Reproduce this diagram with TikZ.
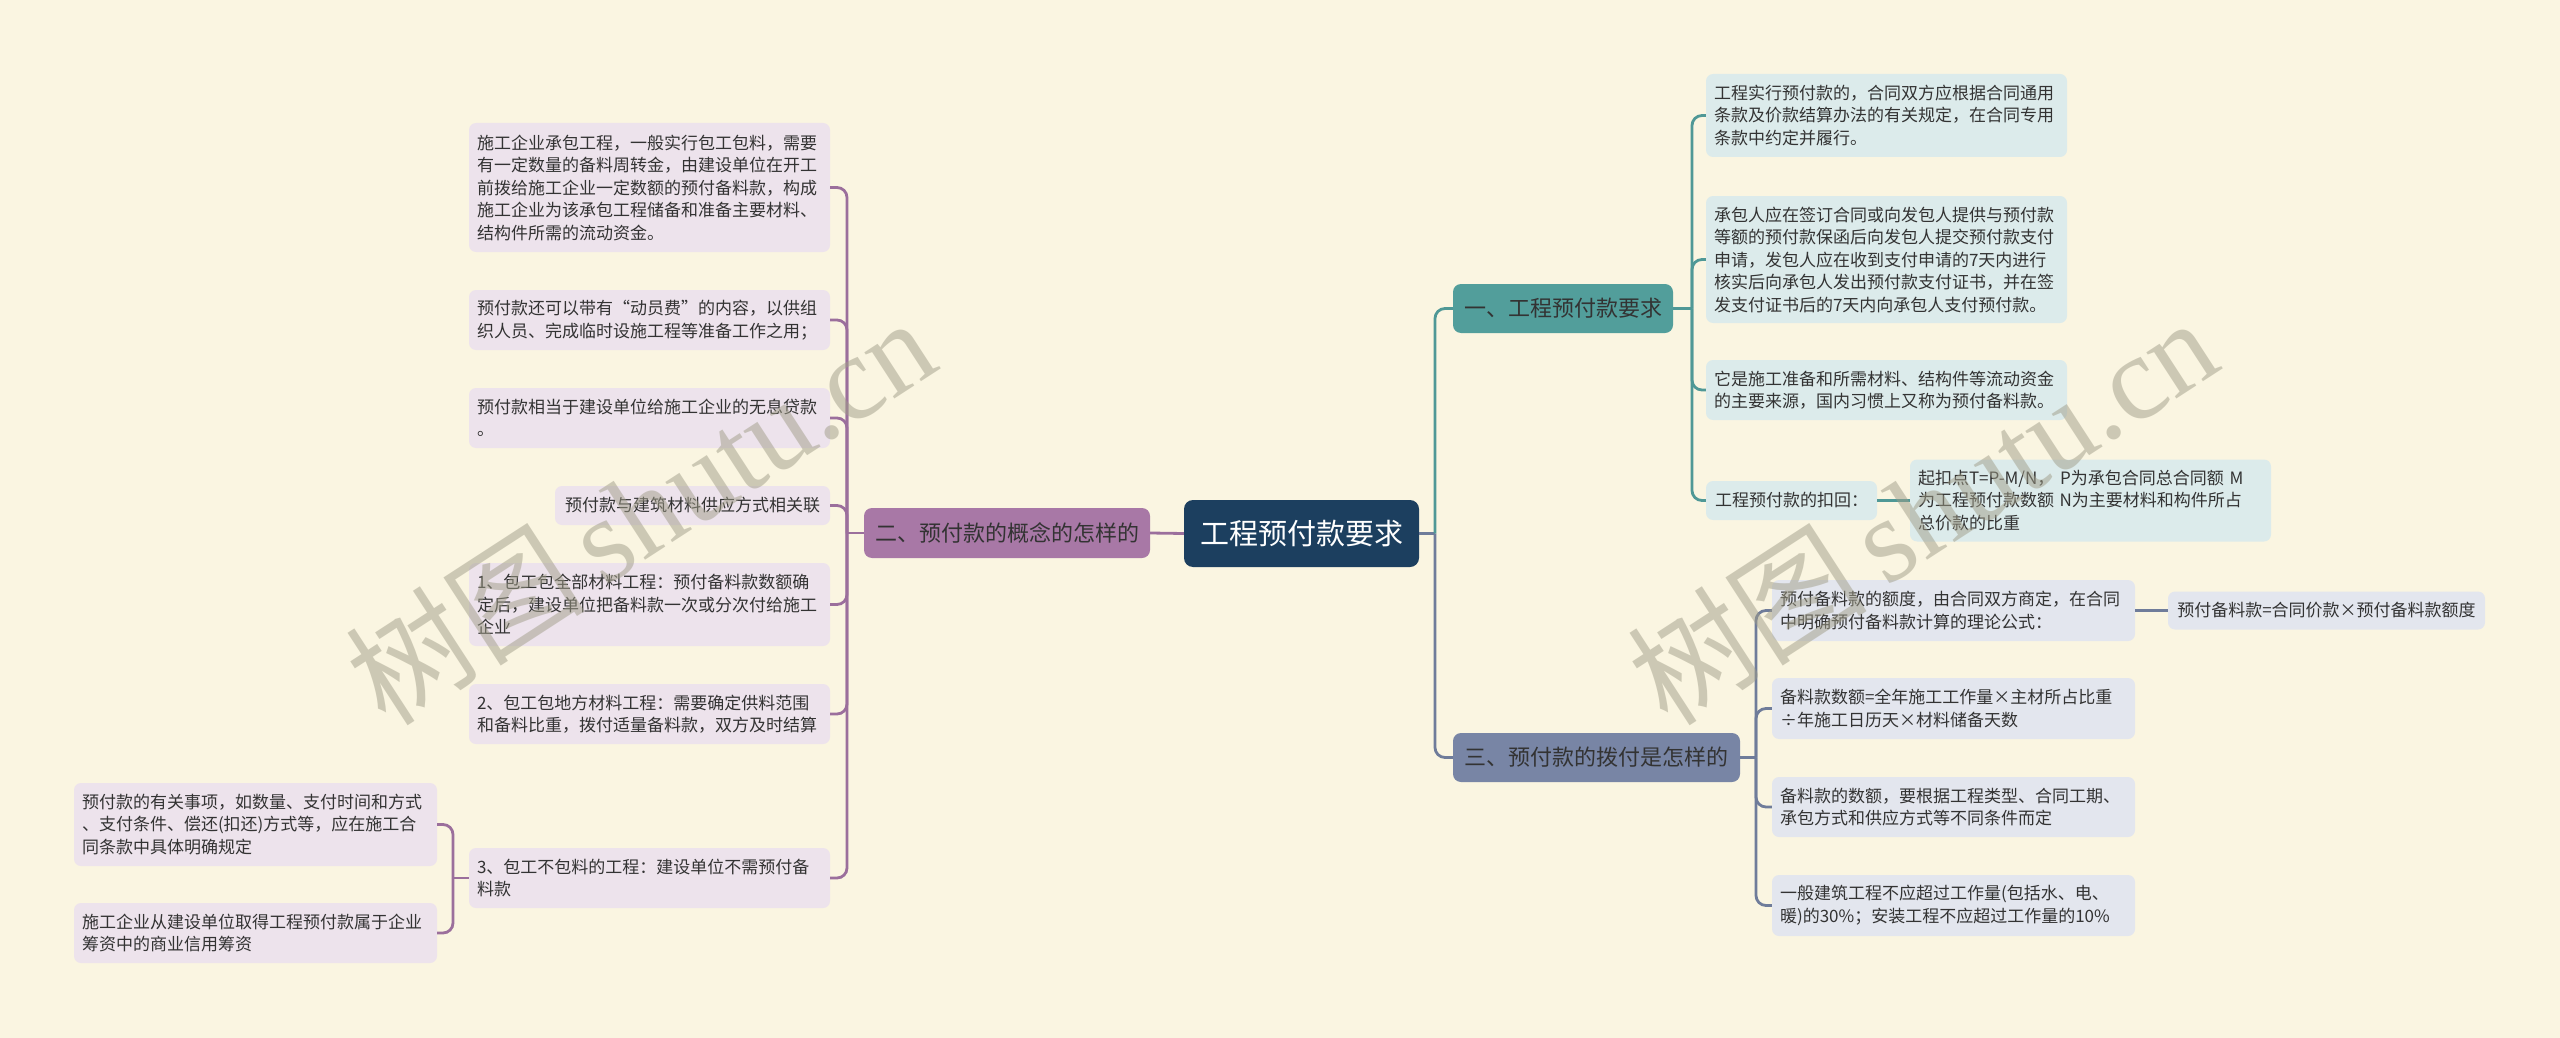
\documentclass[tikz,border=0pt]{standalone}
\usepackage{fontspec}
\setmainfont{Noto Sans CJK SC}
\newfontfamily\wmlatin{Liberation Serif}
\definecolor{bgc}{HTML}{FAF5E1}
\definecolor{txt}{HTML}{333333}
\definecolor{cfill}{HTML}{1C3F5F}
\definecolor{b1fill}{HTML}{529E9B}
\definecolor{b2fill}{HTML}{A878A6}
\definecolor{b3fill}{HTML}{7885A5}
\definecolor{pcol}{HTML}{9B6F9C}
\definecolor{tcol}{HTML}{4F9896}
\definecolor{scol}{HTML}{6F7C9A}
\definecolor{lfill}{HTML}{EDE3EC}
\definecolor{rfill}{HTML}{DCEBEB}
\definecolor{sfill}{HTML}{E3E6EE}
\definecolor{wmcol}{HTML}{A09D88}
\begin{document}
\begin{tikzpicture}[x=1pt,y=-1pt,
  leaf/.style={rounded corners=7pt, inner xsep=8pt, inner ysep=3pt, align=left, text=txt,
    font=\fontsize{17}{22.5}\selectfont},
  lbox/.style={leaf, fill=lfill},
  rbox/.style={leaf, fill=rfill},
  sbox/.style={leaf, fill=sfill},
  branch/.style={rounded corners=8pt, inner sep=0pt, align=center, text=txt,
    font=\fontsize{22}{26}\selectfont},
  rootbox/.style={rounded corners=9pt, inner sep=0pt, align=center, fill=cfill, text=white,
    font=\fontsize{29}{34}\selectfont},
  conn/.style={line width=2.8pt, rounded corners=10pt},
  pline/.style={conn, draw=pcol},
  tline/.style={conn, draw=tcol},
  sline/.style={conn, draw=scol},
  wm/.style={text=wmcol, opacity=0.5, rotate=33, inner sep=0pt}
]
\fill[bgc] (0,0) rectangle (2560,1038);
\useasboundingbox (0,0) rectangle (2560,1038);

% root and branches
\node[rootbox, minimum width=235pt, minimum height=67pt] (C) at (1301.5,533.5) {工程预付款要求};
\node[branch, fill=b1fill, minimum width=220pt, minimum height=49pt] (B1) at (1563,308.5) {一、工程预付款要求};
\node[branch, fill=b2fill, minimum width=286pt, minimum height=50pt] (B2) at (1007,533) {二、预付款的概念的怎样的};
\node[branch, fill=b3fill, minimum width=287pt, minimum height=49pt] (B3) at (1596.5,757.5) {三、预付款的拨付是怎样的};

% left children
\node[lbox, text width=345pt, minimum height=129pt] (L1) at (649.5,187.5) {施工企业承包工程，一般实行包工包料，需要\\有一定数量的备料周转金，由建设单位在开工\\前拨给施工企业一定数额的预付备料款，构成\\施工企业为该承包工程储备和准备主要材料、\\结构件所需的流动资金。};
\node[lbox, text width=345pt, minimum height=60pt] (L2) at (649.5,320) {预付款还可以带有“动员费”的内容，以供组\\织人员、完成临时设施工程等准备工作之用；};
\node[lbox, text width=345pt, minimum height=60pt] (L3) at (649.5,418) {预付款相当于建设单位给施工企业的无息贷款\\。};
\node[lbox, align=center, minimum width=275pt, minimum height=39pt] (L4) at (692.5,505.5) {预付款与建筑材料供应方式相关联};
\node[lbox, text width=345pt, minimum height=83pt] (L5) at (649.5,604.5) {1、包工包全部材料工程：预付备料款数额确\\定后，建设单位把备料款一次或分次付给施工\\企业};
\node[lbox, text width=345pt, minimum height=60pt] (L6) at (649.5,714) {2、包工包地方材料工程：需要确定供料范围\\和备料比重，拨付适量备料款，双方及时结算};
\node[lbox, text width=345pt, minimum height=60pt] (L7) at (649.5,878) {3、包工不包料的工程：建设单位不需预付备\\料款};
\node[lbox, text width=347pt, minimum height=83pt] (LL1) at (255.5,824.5) {预付款的有关事项，如数量、支付时间和方式\\、支付条件、偿还(扣还)方式等，应在施工合\\同条款中具体明确规定};
\node[lbox, text width=347pt, minimum height=60pt] (LL2) at (255.5,933) {施工企业从建设单位取得工程预付款属于企业\\筹资中的商业信用筹资};

% right upper children
\node[rbox, text width=345pt, minimum height=83pt] (R1) at (1886.5,115.5) {工程实行预付款的，合同双方应根据合同通用\\条款及价款结算办法的有关规定，在合同专用\\条款中约定并履行。};
\node[rbox, text width=345pt, minimum height=127pt] (R2) at (1886.5,259.5) {承包人应在签订合同或向发包人提供与预付款\\等额的预付款保函后向发包人提交预付款支付\\申请，发包人应在收到支付申请的7天内进行\\核实后向承包人发出预付款支付证书，并在签\\发支付证书后的7天内向承包人支付预付款。};
\node[rbox, text width=345pt, minimum height=60pt] (R3) at (1886.5,390) {它是施工准备和所需材料、结构件等流动资金\\的主要来源，国内习惯上又称为预付备料款。};
\node[rbox, align=center, minimum width=171pt, minimum height=39pt] (R4) at (1791.5,500.5) {工程预付款的扣回：};
\node[rbox, text width=345pt, minimum height=82pt] (R5) at (2090.5,500.5) {起扣点T=P-M/N，~P为承包合同总合同额~M\\为工程预付款数额~N为主要材料和构件所占\\总价款的比重};

% right lower children
\node[sbox, text width=347pt, minimum height=61pt] (S1) at (1953.5,610.5) {预付备料款的额度，由合同双方商定，在合同\\中明确预付备料款计算的理论公式：};
\node[sbox, align=center, minimum width=317pt, minimum height=38pt] (S1a) at (2326.5,610.5) {预付备料款=合同价款×预付备料款额度};
\node[sbox, text width=347pt, minimum height=61pt] (S2) at (1953.5,708.5) {备料款数额=全年施工工作量×主材所占比重\\÷年施工日历天×材料储备天数};
\node[sbox, text width=347pt, minimum height=60pt] (S3) at (1953.5,807) {备料款的数额，要根据工程类型、合同工期、\\承包方式和供应方式等不同条件而定};
\node[sbox, text width=347pt, minimum height=61pt] (S4) at (1953.5,905.5) {一般建筑工程不应超过工作量(包括水、电、\\暖)的30\%；安装工程不应超过工作量的10\%};

% trunk coordinates
\coordinate (tL) at (847,533);
\coordinate (tLL) at (453,878);
\coordinate (tR) at (1435,533.5);
\coordinate (tR1) at (1692,308.5);
\coordinate (tR3) at (1756,757.5);

% left connectors
\draw[pline] (C.west) -- (B2.east);
\draw[pline] (B2.west) -- (tL);
\foreach \n in {L1,L2,L3,L4,L5,L6,L7} \draw[pline] (tL) |- (\n.east);
\draw[pline] (L7.west) -- (tLL);
\foreach \n in {LL1,LL2} \draw[pline] (tLL) |- (\n.east);

% right connectors
\draw[sline] (C.east) -- (tR);
\draw[tline] (tR) |- (B1.west);
\draw[sline] (tR) |- (B3.west);
\draw[tline] (B1.east) -- (tR1);
\foreach \n in {R1,R2,R3,R4} \draw[tline] (tR1) |- (\n.west);
\draw[tline] (R4.east) -- (R5.west);
\draw[sline] (B3.east) -- (tR3);
\foreach \n in {S1,S2,S3,S4} \draw[sline] (tR3) |- (\n.west);
\draw[sline] (S1.east) -- (S1a.west);

% watermarks
\node[wm, font=\fontsize{120}{130}\selectfont] (W1) at (640,510) {树图\,{\wmlatin shutu.cn}};
\node[wm, font=\fontsize{120}{130}\selectfont] (W2) at (1922,510) {树图\,{\wmlatin shutu.cn}};
\end{tikzpicture}
\end{document}
